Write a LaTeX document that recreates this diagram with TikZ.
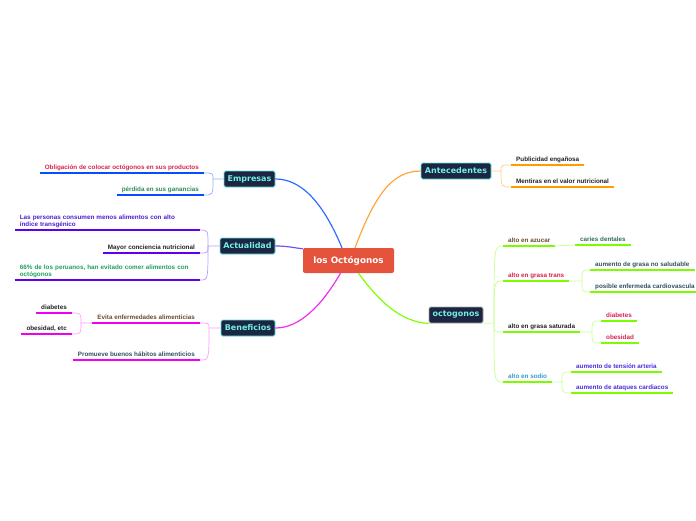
\documentclass[tikz,border=0pt]{standalone}
\usepackage{fontspec}
\setmainfont{Liberation Sans}
\newfontfamily\boxfont{DejaVu Sans}
\definecolor{boxfill}{HTML}{1C2541}
\definecolor{boxline}{HTML}{5FE3DC}
\definecolor{boxtext}{HTML}{6FF0E8}
\definecolor{cred}{HTML}{E5533D}
\definecolor{mblue}{HTML}{2F6BFF}
\definecolor{ublue}{HTML}{0A4BFF}
\definecolor{sblue}{HTML}{8FB0FF}
\definecolor{mpurple}{HTML}{7A4DF5}
\definecolor{upurple}{HTML}{5E00EE}
\definecolor{spurple}{HTML}{B49CFF}
\definecolor{mmag}{HTML}{F02CF0}
\definecolor{umag}{HTML}{F000F0}
\definecolor{smag}{HTML}{FF9CFF}
\definecolor{morange}{HTML}{FFA63A}
\definecolor{uorange}{HTML}{FF9D00}
\definecolor{sorange}{HTML}{FFCC88}
\definecolor{mgreen}{HTML}{7FFF00}
\definecolor{ugreen}{HTML}{7CFC00}
\definecolor{sgreen}{HTML}{C8FF90}
\definecolor{tred}{HTML}{D6224A}
\definecolor{tgreen}{HTML}{2E8B57}
\definecolor{tindigo}{HTML}{4B1ED0}
\definecolor{tgreen2}{HTML}{1FA05A}
\definecolor{tbrown}{HTML}{6B4A2E}
\definecolor{tslate}{HTML}{2F4F5F}
\definecolor{tdark}{HTML}{222222}
\definecolor{tteal}{HTML}{2F6B5F}
\definecolor{tsky}{HTML}{3399CC}
\definecolor{tviolet}{HTML}{4B2BE0}
\tikzset{
  topic/.style={draw=boxline, fill=boxfill, line width=0.8pt, rounded corners=1.5pt,
    inner sep=0pt, minimum height=16pt, text=boxtext,
    font=\boxfont\bfseries\fontsize{8}{9}\selectfont},
  central/.style={fill=cred, rounded corners=2pt, inner sep=0pt, minimum width=91pt,
    minimum height=25pt, text=white, font=\boxfont\bfseries\fontsize{8.8}{10}\selectfont},
  leaf/.style={inner xsep=5pt, inner ysep=2pt, text height=4.6pt, text depth=1.4pt,
    font=\bfseries\fontsize{6.3}{7}\selectfont},
  leaf2/.style={inner xsep=5pt, inner ysep=2pt, align=left,
    font=\bfseries\fontsize{6.3}{7}\selectfont},
  main/.style={line width=1.2pt},
  sub/.style={line width=0.7pt},
  ul/.style={line width=2pt},
}
\begin{document}
\begin{tikzpicture}[x=1pt,y=-1pt]
\useasboundingbox (0,0) rectangle (696,520);
% central and topics
\node[central] (c) at (348.5,260.5) {los Octógonos};
\node[topic, minimum width=51pt] (em) at (249.5,179) {Empresas};
\node[topic, minimum width=55pt] (ac) at (247.5,246) {Actualidad};
\node[topic, minimum width=54pt] (be) at (248,328) {Beneficios};
\node[topic, minimum width=70pt] (an) at (456,171) {Antecedentes};
\node[topic, minimum width=54pt, draw=gray!70] (oc) at (456,315) {octogonos};
% main connectors
\draw[main, mblue] ([xshift=-6.5pt]c.north) .. controls (322,200) and (300,179) .. (em.east);
\draw[main, morange] ([xshift=6.5pt]c.north) .. controls (375,195) and (392,171) .. (an.west);
\draw[main, mpurple] (ac.east) .. controls (288,246) and (295,248) .. ([yshift=-1pt]c.north west);
\draw[main, mmag] ([xshift=-8pt]c.south) .. controls (322,305) and (300,328) .. (be.east);
\draw[main, mgreen] ([xshift=10pt]c.south) .. controls (378,300) and (400,322) .. (oc.south west);
% Empresas leaves
\node[leaf, text=tred, anchor=south east] (ob) at (204,173) {Obligación de colocar octógonos en sus productos};
\node[leaf, text=tgreen, anchor=south east] (pe) at (204,195) {pérdida en sus ganancias};
% Actualidad leaves
\node[leaf2, text=tindigo, anchor=south east, text width=175pt] (lp) at (200,230) {Las personas consumen menos alimentos con alto\\índice transgénico};
\node[leaf, text=tdark, anchor=south east] (ma) at (200,253) {Mayor conciencia nutricional};
\node[leaf2, text=tgreen2, anchor=south east, text width=175pt] (sx) at (200,280) {66\% de los peruanos, han evitado comer alimentos con\\octógonos};
% Beneficios leaves
\node[leaf, text=tbrown, anchor=south east] (ev) at (200,323) {Evita enfermedades alimenticias};
\node[leaf, text=tdark, anchor=south east] (di) at (72,313) {diabetes};
\node[leaf, text=tdark, anchor=south east] (oe) at (72,334) {obesidad, etc};
\node[leaf, text=tslate, anchor=south east] (pr) at (200,360) {Promueve buenos hábitos alimenticios};
% Antecedentes leaves
\node[leaf, text=tdark, anchor=south west] (pu) at (511,165) {Publicidad engañosa};
\node[leaf, text=tdark, anchor=south west] (mn) at (511,187) {Mentiras en el valor nutricional};
% octogonos leaves
\node[leaf, text=tbrown, anchor=south west] (az) at (503,246) {alto en azucar};
\node[leaf, text=tteal, anchor=south west] (ca) at (575,245) {caries dentales};
\node[leaf, text=tred, anchor=south west] (gt) at (503,281) {alto en grasa trans};
\node[leaf, text=tslate, anchor=south west] (ag) at (590,270) {aumento de grasa no saludable};
\node[leaf, text=tslate, anchor=south west] (pc) at (590,292) {posible enfermeda cardiovascula};
\node[leaf, text=tdark, anchor=south west] (gs) at (503,332) {alto en grasa saturada};
\node[leaf, text=tred, anchor=south west] (d2) at (601,321) {diabetes};
\node[leaf, text=tred, anchor=south west] (o2) at (601,343) {obesidad};
\node[leaf, text=tsky, anchor=south west] (so) at (503,382) {alto en sodio};
\node[leaf, text=tviolet, anchor=south west] (ta) at (571,372) {aumento de tensión arteria};
\node[leaf, text=tviolet, anchor=south west] (aa) at (571,393) {aumento de ataques cardiacos};
% underlines
\foreach \n/\c in {ob/ublue, pe/ublue, lp/upurple, ma/upurple, sx/upurple,
  ev/umag, di/umag, oe/umag, pr/umag, pu/uorange, mn/uorange,
  az/ugreen, ca/ugreen, gt/ugreen, ag/ugreen, pc/ugreen, gs/ugreen,
  d2/ugreen, o2/ugreen, so/ugreen, ta/ugreen, aa/ugreen}
  \draw[ul, \c] (\n.south west) -- (\n.south east);
% junctions
\coordinate (jem) at (213,179);
\coordinate (jac) at (208,246);
\coordinate (jbe) at (209,328);
\coordinate (jev) at (81,323);
\coordinate (jan) at (501,171);
\coordinate (joc) at (494,323);
\coordinate (jgt) at (582,281);
\coordinate (jgs) at (592,332);
\coordinate (jso) at (562,382);
% sub connectors
\draw[sub, sblue] (em.west) -- (jem) .. controls (jem |- ob.south east) .. (ob.south east);
\draw[sub, sblue] (jem) .. controls (jem |- pe.south east) .. (pe.south east);
\draw[sub, spurple] (ac.west) -- (jac) .. controls (jac |- lp.south east) .. (lp.south east);
\draw[sub, spurple] (jac) .. controls (jac |- ma.south east) .. (ma.south east);
\draw[sub, spurple] (jac) .. controls (jac |- sx.south east) .. (sx.south east);
\draw[sub, smag] (be.west) -- (jbe) .. controls (jbe |- ev.south east) .. (ev.south east);
\draw[sub, smag] (jbe) .. controls (jbe |- pr.south east) .. (pr.south east);
\draw[sub, smag] (ev.south west) -- (jev) .. controls (jev |- di.south east) .. (di.south east);
\draw[sub, smag] (jev) .. controls (jev |- oe.south east) .. (oe.south east);
\draw[sub, sorange] (an.east) -- (jan) .. controls (jan |- pu.south west) .. (pu.south west);
\draw[sub, sorange] (jan) .. controls (jan |- mn.south west) .. (mn.south west);
\draw[sub, sgreen] (oc.south east) -- (joc) .. controls (joc |- az.south west) .. (az.south west);
\draw[sub, sgreen] (joc) .. controls (joc |- gt.south west) .. (gt.south west);
\draw[sub, sgreen] (joc) .. controls (joc |- gs.south west) .. (gs.south west);
\draw[sub, sgreen] (joc) .. controls (joc |- so.south west) .. (so.south west);
\draw[sub, sgreen] (az.south east) -- (ca.south west);
\draw[sub, sgreen] (gt.south east) -- (jgt) .. controls (jgt |- ag.south west) .. (ag.south west);
\draw[sub, sgreen] (jgt) .. controls (jgt |- pc.south west) .. (pc.south west);
\draw[sub, sgreen] (gs.south east) -- (jgs) .. controls (jgs |- d2.south west) .. (d2.south west);
\draw[sub, sgreen] (jgs) .. controls (jgs |- o2.south west) .. (o2.south west);
\draw[sub, sgreen] (so.south east) -- (jso) .. controls (jso |- ta.south west) .. (ta.south west);
\draw[sub, sgreen] (jso) .. controls (jso |- aa.south west) .. (aa.south west);
\end{tikzpicture}
\end{document}
